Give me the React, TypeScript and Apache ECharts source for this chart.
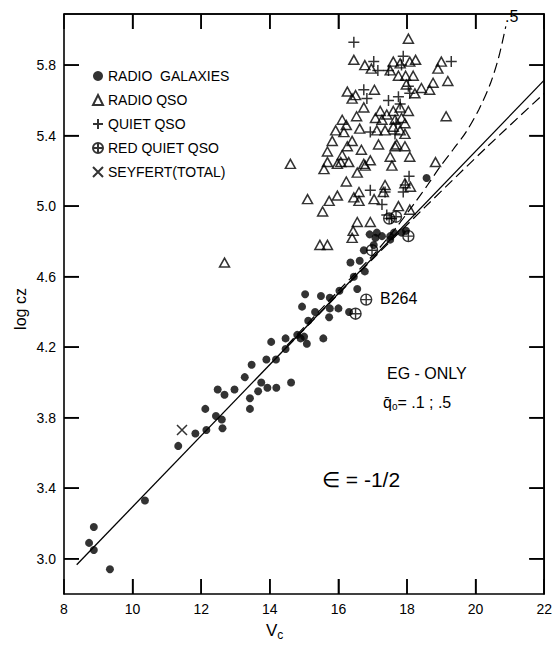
import React, { useEffect, useRef } from "react";
import * as echarts from "echarts";

// ---- data ----
const radioGalaxies: [number, number][] = [
  [8.73, 3.09], [8.87, 3.18], [8.87, 3.05], [9.34, 2.94], [10.36, 3.33],
  [11.33, 3.64], [11.83, 3.71], [12.15, 3.73], [12.62, 3.74], [12.6, 3.79],
  [12.43, 3.81], [12.12, 3.85], [13.42, 3.85], [13.42, 3.91], [13.66, 3.95],
  [13.93, 3.97], [14.19, 3.97], [14.62, 4.0], [13.75, 4.0], [12.48, 3.96],
  [12.68, 3.93], [12.97, 3.96], [13.27, 4.03], [13.47, 4.1], [13.9, 4.13],
  [14.18, 4.13], [14.04, 4.23], [14.46, 4.19], [14.46, 4.25], [14.9, 4.25],
  [15.0, 4.26], [15.08, 4.22], [15.56, 4.25], [14.8, 4.27], [15.03, 4.5],
  [15.49, 4.49], [15.75, 4.48], [14.94, 4.43], [15.32, 4.4], [15.75, 4.42],
  [16.0, 4.42], [15.73, 4.37], [15.12, 4.35], [16.03, 4.52], [16.31, 4.4],
  [16.55, 4.53], [16.45, 4.6], [16.77, 4.63], [16.35, 4.68], [16.62, 4.69],
  [16.74, 4.75], [17.03, 4.78], [17.08, 4.82], [17.27, 4.83], [16.91, 4.84],
  [17.12, 4.85], [17.51, 4.83], [17.51, 4.81], [17.62, 4.85], [17.84, 4.85],
  [17.97, 4.86], [18.57, 5.16],
];

const radioQSO: [number, number][] = [
  [18.04, 5.95], [16.45, 5.83], [16.77, 5.8], [16.96, 5.78], [17.6, 5.82],
  [17.8, 5.81], [18.08, 5.82], [18.25, 5.83], [17.51, 5.77], [17.75, 5.74],
  [17.96, 5.74], [18.18, 5.74], [19.0, 5.82], [18.9, 5.78], [19.19, 5.71],
  [18.76, 5.7], [18.66, 5.66], [18.42, 5.67], [18.23, 5.64], [17.98, 5.69],
  [16.26, 5.65], [16.5, 5.63], [16.4, 5.61], [17.05, 5.66], [16.74, 5.56],
  [16.53, 5.51], [17.22, 5.54], [17.41, 5.52], [17.6, 5.54], [18.04, 5.54],
  [17.08, 5.5], [17.27, 5.49], [17.65, 5.49], [17.84, 5.5], [17.94, 5.47],
  [16.11, 5.49], [16.23, 5.46], [15.92, 5.43], [16.16, 5.42], [16.62, 5.44],
  [17.12, 5.43], [17.36, 5.43], [17.6, 5.45], [17.8, 5.43], [17.94, 5.41],
  [19.14, 5.51], [15.82, 5.37], [15.68, 5.31], [16.4, 5.37], [16.26, 5.34],
  [16.67, 5.32], [17.17, 5.35], [17.65, 5.34], [17.94, 5.34], [16.11, 5.29],
  [16.3, 5.25], [15.68, 5.25], [15.58, 5.21], [15.97, 5.24], [16.74, 5.24],
  [16.93, 5.26], [16.55, 5.19], [17.51, 5.28], [17.56, 5.23], [18.08, 5.28],
  [16.23, 5.14], [17.36, 5.12], [17.31, 5.08], [17.94, 5.13], [18.1, 5.11],
  [18.83, 5.25], [14.6, 5.24], [15.1, 5.04], [15.97, 5.06], [15.73, 5.03],
  [15.54, 4.97], [16.45, 5.05], [16.6, 5.03], [16.6, 5.08], [17.04, 5.04],
  [17.75, 5.0], [18.08, 4.98], [16.55, 4.91], [16.93, 4.91], [16.43, 4.86],
  [16.4, 4.82], [15.68, 4.78], [15.46, 4.78], [12.68, 4.68], [16.78, 5.23],
  [17.8, 5.56], [17.7, 5.35], [16.07, 5.25],
];

const quietQSO: [number, number][] = [
  [16.45, 5.93], [17.03, 5.82], [17.15, 5.77], [17.89, 5.85], [19.29, 5.82],
  [17.46, 5.77], [16.74, 5.66], [16.83, 5.61], [18.04, 5.68], [18.08, 5.64],
  [17.46, 5.6], [17.75, 5.62], [16.93, 5.42], [17.68, 5.47], [17.65, 5.41],
  [18.06, 5.17], [17.95, 5.12], [16.93, 5.09], [17.36, 5.08], [17.89, 5.08],
  [17.27, 5.01], [17.41, 4.95], [17.55, 4.93], [17.8, 5.58], [17.84, 5.8],
];

const redQuietQSO: [number, number][] = [
  [16.5, 4.39], [16.81, 4.47], [16.98, 4.75], [18.04, 4.83], [17.48, 4.93], [17.68, 4.94],
];

const seyfert: [number, number][] = [[11.44, 3.73]];

// fitted relation and curves
const solidLine: [number, number][] = [[8.37, 2.966], [22, 5.715]];
const curveQ01: [number, number][] = [
  [14.5, 4.2], [17.0, 4.7], [18.5, 4.99], [20.3, 5.33], [22.0, 5.64],
];
const curveQ05: [number, number][] = [
  [14.5, 4.21], [16.0, 4.52], [17.0, 4.72], [17.65, 4.87], [18.23, 5.02],
  [18.6, 5.12], [18.95, 5.22], [19.34, 5.32], [19.72, 5.42], [20.1, 5.55],
  [20.44, 5.7], [20.68, 5.85], [20.88, 6.02],
];

const yTicks = [3.0, 3.4, 3.8, 4.2, 4.6, 5.0, 5.4, 5.8];
const xTicks = [8, 10, 12, 14, 16, 18, 20, 22];
const X_MIN = 8, X_MAX = 22, Y_MIN = 2.8, Y_MAX = 6.09;

const FONT = "Liberation Sans";

const PLUS = "path://M5,0 L5,10 M0,5 L10,5";
const CIRCLE_PLUS =
  "path://M10,5 A5,5 0 1,1 0,5 A5,5 0 1,1 10,5 Z M5,0 L5,10 M0,5 L10,5";
const CROSS = "path://M0,0 L10,10 M10,0 L0,10";

// frame pieces: [tick value, side]; side 0 left, 1 right, 2 bottom, 3 top, 4 top edge, 5 right edge
const frameItems: [number, number][] = [
  ...yTicks.map((v) => [v, 0] as [number, number]),
  ...yTicks.map((v) => [v, 1] as [number, number]),
  ...xTicks.slice(1, -1).map((v) => [v, 2] as [number, number]),
  ...xTicks.slice(1, -1).map((v) => [v, 3] as [number, number]),
  [X_MIN, 4],
  [X_MIN, 5],
];

export default function App() {
  const ref = useRef<HTMLDivElement>(null);
  useEffect(() => {
    document.body.style.margin = "0";
    if (!ref.current) return;
    const chart = echarts.init(ref.current, null, { renderer: "svg" });
    const axisLine = { show: true, lineStyle: { color: "#000", width: 1.6 } };
    const tickStyle = { show: true, inside: true, length: 15, lineStyle: { color: "#000", width: 1.5 } };
    const TL = 15;
    chart.setOption({
      animation: false,
      grid: { left: 64, right: 8, top: 14, bottom: 54 },
      legend: {
        data: ["RADIO  GALAXIES", "RADIO QSO", "QUIET QSO", "RED QUIET QSO", "SEYFERT(TOTAL)"],
        orient: "vertical",
        left: 87,
        top: 64,
        itemWidth: 10,
        itemHeight: 10,
        itemGap: 10,
        textStyle: { fontFamily: FONT, fontSize: 14, color: "#000" },
        selectedMode: false,
      },
      xAxis: [
        {
          type: "value",
          min: X_MIN,
          max: X_MAX,
          interval: 2,
          splitLine: { show: false },
          axisLine,
          axisTick: { ...tickStyle, customValues: xTicks },
          axisLabel: { color: "#000", fontSize: 14, fontFamily: FONT, customValues: xTicks },
        },
        {
          type: "value",
          position: "top",
          min: X_MIN,
          max: X_MAX,
          interval: 2,
          splitLine: { show: false },
          axisLine,
          axisTick: { ...tickStyle, customValues: xTicks },
          axisLabel: { show: false },
        },
      ],
      yAxis: [
        {
          type: "value",
          min: Y_MIN,
          max: Y_MAX,
          interval: 0.2,
          splitLine: { show: false },
          axisLine,
          axisTick: { ...tickStyle, customValues: yTicks },
          axisLabel: {
            color: "#000",
            fontSize: 14,
            fontFamily: FONT,
            customValues: yTicks,
            formatter: (v: number) => v.toFixed(1),
          },
        },
        {
          type: "value",
          position: "right",
          min: Y_MIN,
          max: Y_MAX,
          interval: 0.2,
          splitLine: { show: false },
          axisLine,
          axisTick: { ...tickStyle, customValues: yTicks },
          axisLabel: { show: false },
        },
      ],
      series: [
        {
          name: "frame",
          type: "custom",
          silent: true,
          z: 6,
          data: frameItems,
          renderItem: (params: any, api: any) => {
            const v = api.value(0);
            const side = api.value(1);
            let a: number[];
            let b: number[];
            if (side === 0) {
              a = api.coord([X_MIN, v]);
              b = [a[0] + TL, a[1]];
            } else if (side === 1) {
              a = api.coord([X_MAX, v]);
              b = [a[0] - TL, a[1]];
            } else if (side === 2) {
              a = api.coord([v, Y_MIN]);
              b = [a[0], a[1] - TL];
            } else if (side === 3) {
              a = api.coord([v, Y_MAX]);
              b = [a[0], a[1] + TL];
            } else if (side === 4) {
              a = api.coord([X_MIN, Y_MAX]);
              b = api.coord([X_MAX, Y_MAX]);
            } else {
              a = api.coord([X_MAX, Y_MIN]);
              b = api.coord([X_MAX, Y_MAX]);
            }
            return {
              type: "line",
              shape: { x1: a[0], y1: a[1], x2: b[0], y2: b[1] },
              style: { stroke: "#000", lineWidth: side >= 4 ? 1.6 : 1.5, fill: "none" },
            };
          },
        },
        {
          name: "solid",
          type: "line",
          data: solidLine,
          showSymbol: false,
          symbol: "none",
          lineStyle: { color: "#000", width: 1.3 },
        },
        {
          name: "q01",
          type: "line",
          data: curveQ01,
          showSymbol: false,
          symbol: "none",
          smooth: 0.3,
          lineStyle: { color: "#000", width: 1.2, type: [10, 5] },
        },
        {
          name: "q05",
          type: "line",
          data: curveQ05,
          showSymbol: false,
          symbol: "none",
          smooth: 0.3,
          lineStyle: { color: "#000", width: 1.2, type: [10, 5] },
        },
        {
          name: "RADIO  GALAXIES",
          type: "scatter",
          data: radioGalaxies,
          symbol: "circle",
          symbolSize: 8,
          itemStyle: { color: "#000" },
        },
        {
          name: "RADIO QSO",
          type: "scatter",
          data: radioQSO,
          symbol: "triangle",
          symbolSize: [10, 9],
          itemStyle: { color: "rgba(0,0,0,0)", borderColor: "#000", borderWidth: 1.5 },
        },
        {
          name: "QUIET QSO",
          type: "scatter",
          data: quietQSO,
          symbol: PLUS,
          symbolSize: 11,
          itemStyle: { color: "rgba(0,0,0,0)", borderColor: "#000", borderWidth: 1.5 },
        },
        {
          name: "RED QUIET QSO",
          type: "scatter",
          data: redQuietQSO,
          symbol: CIRCLE_PLUS,
          symbolSize: 11,
          itemStyle: { color: "rgba(0,0,0,0)", borderColor: "#000", borderWidth: 1.4 },
        },
        {
          name: "SEYFERT(TOTAL)",
          type: "scatter",
          data: seyfert,
          symbol: CROSS,
          symbolSize: 10,
          itemStyle: { color: "rgba(0,0,0,0)", borderColor: "#000", borderWidth: 1.5 },
        },
      ],
      graphic: [
        {
          type: "text",
          x: 20,
          y: 309,
          rotation: Math.PI / 2,
          style: { text: "log cz", fontFamily: FONT, fontSize: 16, fill: "#000", align: "center", verticalAlign: "middle" },
        },
        {
          type: "text",
          left: 380,
          top: 290,
          style: { text: "B264", fontFamily: FONT, fontSize: 16, fill: "#000" },
        },
        {
          type: "text",
          left: 505,
          top: 8,
          style: { text: ".5", fontFamily: FONT, fontSize: 16, fill: "#000" },
        },
        {
          type: "text",
          left: 266,
          top: 622,
          style: {
            text: "{v|V}{c|c}",
            fontFamily: FONT,
            fill: "#000",
            rich: {
              v: { fontSize: 17, fontFamily: FONT, fill: "#000" },
              c: { fontSize: 12, fontFamily: FONT, fill: "#000", verticalAlign: "bottom", padding: [9, 0, 0, 0] },
            },
          },
        },
        {
          type: "text",
          left: 387,
          top: 365,
          style: { text: "EG - ONLY", fontFamily: FONT, fontSize: 16, fill: "#000" },
        },
        {
          type: "text",
          left: 383,
          top: 394,
          style: {
            text: "{q|q\u0304}{o|o}{t|= .1 ; .5}",
            fontFamily: FONT,
            fill: "#000",
            rich: {
              q: { fontSize: 16, fontFamily: FONT, fill: "#000" },
              o: { fontSize: 10, fontFamily: FONT, fill: "#000", verticalAlign: "bottom", padding: [8, 0, 0, 0] },
              t: { fontSize: 16, fontFamily: FONT, fill: "#000" },
            },
          },
        },
        {
          type: "text",
          left: 322,
          top: 469,
          style: { text: "\u2208 = -1/2", fontFamily: FONT, fontSize: 21, fill: "#000" },
        },
      ],
    });
    return () => chart.dispose();
  }, []);
  return (
    <div
      ref={ref}
      style={{ position: "absolute", left: 0, top: 0, width: 555, height: 648, background: "#fff" }}
    />
  );
}
